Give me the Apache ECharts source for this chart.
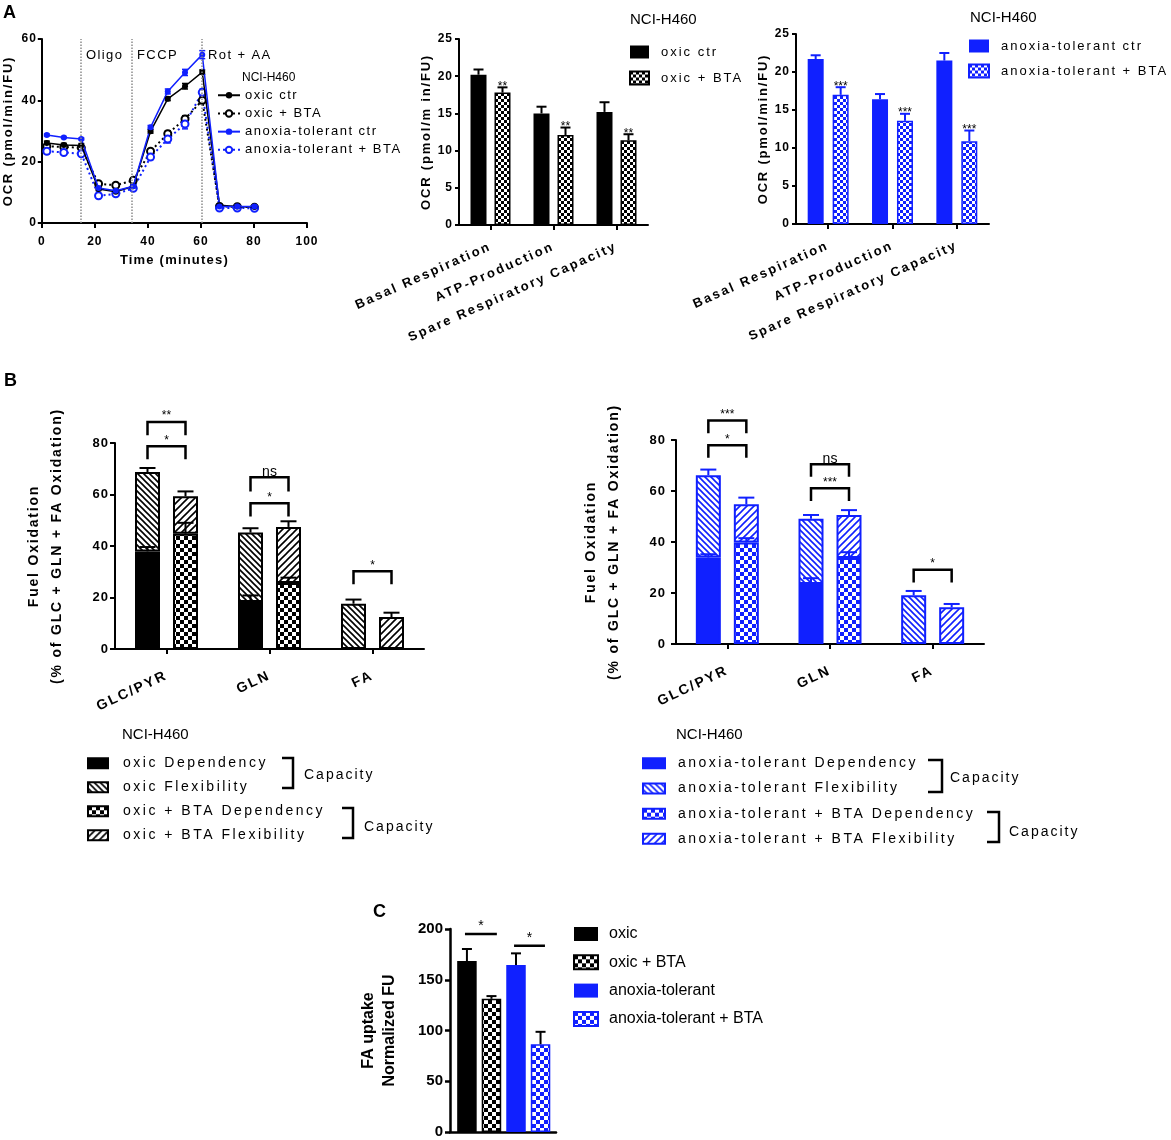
<!DOCTYPE html>
<html>
<head>
<meta charset="utf-8">
<script src="https://cdn.jsdelivr.net/npm/echarts@6/dist/echarts.min.js"></script>
<style>
html, body { margin: 0; padding: 0; background: #fff; }
#chart { width: 1171px; height: 1140px; }
</style>
</head>
<body>
<div id="chart"></div>
<script>
// GraphPad-style wide letter spacing: a font family "lsNN" marker sets NN/10 px spacing
(function () {
    var proto = CanvasRenderingContext2D.prototype;
    var desc = Object.getOwnPropertyDescriptor(proto, 'font');
    if (!desc || !('letterSpacing' in proto)) return;
    Object.defineProperty(proto, 'font', {
        configurable: true,
        enumerable: true,
        get: function () { return desc.get.call(this); },
        set: function (v) {
            desc.set.call(this, v);
            var m = /\bls(\d+)\b/.exec(String(v));
            this.letterSpacing = m ? (m[1] / 10) + 'px' : '0px';
        }
    });
})();

// ---- A: OCR time course ----
var times = [1.9, 8.3, 14.9, 21.4, 27.9, 34.5, 41, 47.5, 54, 60.5, 67, 73.7, 80.2];
var oxicCtr = [26.1, 25.4, 25.3, 11.1, 10.2, 12.0, 29.9, 40.5, 44.6, 49.2, 5.8, 5.4, 5.2];
var oxicCtrSd = [0.6, 0.6, 0.6, 0.5, 0.4, 0.5, 0.6, 0.6, 0.9, 0.7, 0.3, 0.3, 0.3];
var oxicBta = [25.0, 24.8, 24.5, 12.8, 12.3, 13.9, 23.4, 29.1, 33.9, 40.0, 5.4, 5.3, 5.1];
var oxicBtaSd = [0.6, 0.6, 0.6, 0.5, 0.5, 0.6, 0.7, 1.0, 1.1, 1.0, 0.3, 0.3, 0.3];
var anoxCtr = [28.7, 27.9, 27.4, 11.4, 10.5, 12.0, 31.2, 42.9, 49.1, 54.9, 5.4, 5.4, 5.4];
var anoxCtrSd = [0.3, 0.3, 0.3, 0.4, 0.4, 0.4, 0.6, 0.8, 1.0, 1.3, 0.3, 0.3, 0.3];
var anoxBta = [23.4, 23.0, 22.6, 8.9, 9.5, 11.3, 21.5, 27.4, 32.3, 42.6, 4.9, 4.9, 4.8];
var anoxBtaSd = [0.8, 0.7, 0.7, 0.4, 0.4, 0.5, 0.8, 1.3, 1.6, 1.0, 0.3, 0.3, 0.3];
var injections = [14.5, 34, 60.5];
var injectionNames = ['Oligo', 'FCCP', 'Rot + AA'];

// ---- A: respiration parameters ----
var respCats = ['Basal Respiration', 'ATP-Production', 'Spare Respiratory Capacity'];
var oxicCtrOcr = [20.2, 15.0, 15.2];
var oxicCtrErr = [0.7, 0.9, 1.3];
var oxicBtaOcr = [17.8, 12.1, 11.4];
var oxicBtaErr = [0.7, 1.0, 0.8];
var oxicBtaSig = ['**', '**', '**'];
var anoxCtrOcr = [21.7, 16.4, 21.5];
var anoxCtrErr = [0.5, 0.7, 1.0];
var anoxBtaOcr = [17.0, 13.6, 10.9];
var anoxBtaErr = [1.0, 0.9, 1.4];
var anoxBtaSig = ['***', '***', '***'];

// ---- B: fuel oxidation ----
var fuelCats = ['GLC/PYR', 'GLN', 'FA'];
var oxicDep = [37.9, 18.3, null];
var oxicDepErr = [1.7, 2.5, null];
var oxicFlex = [30.8, 26.9, 17.6];
var oxicTotErr = [1.6, 1.7, 1.6];
var oxicBtaDep = [44.8, 25.6, null];
var oxicBtaDepErr = [4.2, 2.1, null];
var oxicBtaFlex = [14.5, 21.8, 12.4];
var oxicBtaTotErr = [1.9, 2.2, 1.7];
var oxicBrackets = [[0, 88.2, 83.0], [0, 78.7, 73.7], [1, 66.7, 61.2], [1, 56.6, 51.5], [2, 30.2, 25.1]];
var oxicBracketSig = ['**', '*', 'ns', '*', '*'];

var anoxDep = [33.9, 23.5, null];
var anoxDepErr = [1.3, 2.3, null];
var anoxFlex = [32.3, 25.6, 19.1];
var anoxTotErr = [2.2, 1.5, 1.7];
var anoxBtaDep = [39.8, 33.7, null];
var anoxBtaDepErr = [1.7, 2.3, null];
var anoxBtaFlex = [15.0, 16.9, 14.4];
var anoxBtaTotErr = [2.6, 1.9, 1.3];
var anoxBrackets = [[0, 87.6, 82.6], [0, 77.9, 73.0], [1, 70.5, 65.6], [1, 61.1, 56.1], [2, 29.1, 24.1]];
var anoxBracketSig = ['***', '*', 'ns', '***', '*'];

// ---- C: FA uptake ----
var uptakeNames = ['oxic', 'oxic + BTA', 'anoxia-tolerant', 'anoxia-tolerant + BTA'];
var uptake = [168.4, 131.2, 164.5, 86.5];
var uptakeErr = [11.9, 2.7, 11.5, 12.2];
var uptakeSig = [[-0.08, 1.22, 195], [1.92, 3.18, 183.5]];

var BLUE = '#1020ff';
var PLAIN = 'Liberation Sans';
function sp(n) { return 'Liberation Sans, ls' + n; }

function tile(kind, color, s) {
    var c = document.createElement('canvas');
    c.width = s; c.height = s;
    var g = c.getContext('2d');
    g.fillStyle = '#fff';
    g.fillRect(0, 0, s, s);
    g.fillStyle = color;
    g.strokeStyle = color;
    if (kind === 'check') {
        var h = s / 2;
        g.fillRect(0, 0, h, h);
        g.fillRect(h, h, h, h);
    } else {
        g.lineWidth = 1.6;
        g.beginPath();
        if (kind === 'back') {
            g.moveTo(-1, -1); g.lineTo(s + 1, s + 1);
            g.moveTo(-1, s - 1); g.lineTo(1, s + 1);
            g.moveTo(s - 1, -1); g.lineTo(s + 1, 1);
        } else {
            g.moveTo(-1, s + 1); g.lineTo(s + 1, -1);
            g.moveTo(-1, 1); g.lineTo(1, -1);
            g.moveTo(s - 1, s + 1); g.lineTo(s + 1, s - 1);
        }
        g.stroke();
    }
    return { image: c, repeat: 'repeat' };
}

function lineSeries(name, values, color, open) {
    return {
        name: name, type: 'line', xAxisIndex: 0, yAxisIndex: 0,
        data: times.map(function (t, i) { return [t, values[i]]; }),
        symbol: open ? 'emptyCircle' : 'circle',
        symbolSize: open ? 7 : 6,
        showAllSymbol: true,
        itemStyle: { color: color, borderWidth: open ? 2 : 0 },
        lineStyle: { color: color, width: open ? 2 : 1.5, type: open ? [2, 3] : 'solid' },
        z: open ? 3 : 4
    };
}

// mean +/- SD whiskers for the time course
function sdSeries(values, sd, color) {
    return {
        type: 'custom', xAxisIndex: 0, yAxisIndex: 0, z: 2, silent: true,
        data: times.map(function (t, i) { return [t, values[i], sd[i]]; }),
        renderItem: function (params, api) {
            var t = api.value(0), v = api.value(1), s = api.value(2);
            var lo = api.coord([t, v - s]), hi = api.coord([t, v + s]);
            var x = lo[0];
            return {
                type: 'group',
                children: [
                    { type: 'line', shape: { x1: x, y1: lo[1], x2: x, y2: hi[1] }, style: { stroke: color, lineWidth: 1.5 } },
                    { type: 'line', shape: { x1: x - 3, y1: lo[1], x2: x + 3, y2: lo[1] }, style: { stroke: color, lineWidth: 1.5 } },
                    { type: 'line', shape: { x1: x - 3, y1: hi[1], x2: x + 3, y2: hi[1] }, style: { stroke: color, lineWidth: 1.5 } }
                ]
            };
        }
    };
}

// upward-only error bars (+ optional star above the cap)
function errSeries(axis, items, labels, offsets, cap, color, width, font) {
    return {
        type: 'custom', xAxisIndex: axis, yAxisIndex: axis, z: 6, silent: true, clip: false,
        data: items,
        renderItem: function (params, api) {
            var x = api.value(0), base = api.value(1), err = api.value(2), slot = api.value(3);
            var p0 = api.coord([x, base]);
            var p1 = api.coord([x, base + err]);
            var cx = p0[0] + offsets[slot];
            var kids = [
                { type: 'line', shape: { x1: cx, y1: p0[1], x2: cx, y2: p1[1] }, style: { stroke: color, lineWidth: width } },
                { type: 'line', shape: { x1: cx - cap, y1: p1[1], x2: cx + cap, y2: p1[1] }, style: { stroke: color, lineWidth: width } }
            ];
            var lab = labels && labels[params.dataIndex];
            if (lab) {
                kids.push({ type: 'text', style: { text: lab, x: cx, y: p1[1] - 1, align: 'center', verticalAlign: 'middle', font: font, fill: '#000' } });
            }
            return { type: 'group', children: kids };
        }
    };
}

function bracketSeries(axis, items, labels, half) {
    return {
        type: 'custom', xAxisIndex: axis, yAxisIndex: axis, z: 6, silent: true, clip: false,
        data: items,
        renderItem: function (params, api) {
            var top = api.coord([api.value(0), api.value(1)]);
            var bot = api.coord([api.value(0), api.value(2)]);
            var cx = top[0];
            var lab = labels[params.dataIndex];
            var ns = lab === 'ns';
            return {
                type: 'group',
                children: [
                    { type: 'polyline', shape: { points: [[cx - half, bot[1]], [cx - half, top[1]], [cx + half, top[1]], [cx + half, bot[1]]] },
                      style: { stroke: '#000', lineWidth: 2.5, fill: null } },
                    { type: 'text', style: { text: lab, x: cx, y: top[1] + (ns ? 2 : 0), align: 'center', verticalAlign: 'bottom',
                      font: ns ? '14px Liberation Sans' : '12px Liberation Sans', fill: '#000' } }
                ]
            };
        }
    };
}

function fuelItems(dep, depErr, flex, totErr, slot) {
    var out = [];
    fuelCats.forEach(function (c, i) {
        var d = dep[i] == null ? 0 : dep[i];
        if (dep[i] != null) out.push([i, d, depErr[i], slot]);
        out.push([i, d + flex[i], totErr[i], slot]);
    });
    return out;
}

function respItems(a, aErr, b, bErr) {
    var out = [];
    respCats.forEach(function (c, i) {
        out.push([i, a[i], aErr[i], 0]);
        out.push([i, b[i], bErr[i], 1]);
    });
    return out;
}
function respLabels(sig) {
    var out = [];
    sig.forEach(function (s) { out.push(''); out.push(s); });
    return out;
}

function fuelBar(name, axis, data, stack, fill, edge) {
    return {
        name: name, type: 'bar', xAxisIndex: axis, yAxisIndex: axis, stack: stack, data: data,
        barWidth: 25, barGap: '52%',
        itemStyle: { color: fill, borderColor: edge, borderWidth: 2 }
    };
}

function axisLine(w) { return { show: true, onZero: false, lineStyle: { color: '#000', width: w } }; }
function axisTick(len, w) { return { show: true, length: len, lineStyle: { color: '#000', width: w } }; }
function yName(text, gap, size, family, lh) {
    return { name: text, nameLocation: 'middle', nameGap: gap,
             nameTextStyle: { color: '#000', fontWeight: 'bold', fontSize: size, fontFamily: family, lineHeight: lh } };
}
function txt(text, x, y, font, align) {
    return { type: 'text', x: x, y: y, silent: true,
             style: { text: text, font: font, fill: '#000', align: align || 'left', verticalAlign: 'middle' } };
}
function bracket(x1, x2, y1, y2) {
    return { type: 'polyline', silent: true, shape: { points: [[x1, y1], [x2, y1], [x2, y2], [x1, y2]] },
             style: { stroke: '#000', lineWidth: 2.5, fill: null } };
}
function stripTag(n) { return n.split('#')[0]; }

var checkK3 = tile('check', '#000', 6);
var checkB3 = tile('check', BLUE, 6);
var checkK4 = tile('check', '#000', 8);
var checkB4 = tile('check', BLUE, 8);
var backK = tile('back', '#000', 6);
var fwdK = tile('fwd', '#000', 7);
var backB = tile('back', BLUE, 6);
var fwdB = tile('fwd', BLUE, 7);

var respAxisLabel = { interval: 0, rotate: 24, margin: 21, color: '#000', fontWeight: 'bold', fontSize: 13, fontFamily: sp(22) };
var fuelAxisLabel = { interval: 0, rotate: 25, margin: 26, color: '#000', fontWeight: 'bold', fontSize: 14, fontFamily: sp(20) };
var tickLabel = { color: '#000', fontWeight: 'bold', fontSize: 12, fontFamily: sp(10), margin: 6 };
var legendFont = { color: '#000', fontSize: 14, fontFamily: sp(25) };

var chart = echarts.init(document.getElementById('chart'));
chart.setOption({
    animation: false,
    backgroundColor: '#fff',
    grid: [
        { left: 41, top: 39, width: 266, height: 184 },
        { left: 459, top: 39, width: 189, height: 186 },
        { left: 796, top: 34, width: 193, height: 190 },
        { left: 115, top: 443, width: 309, height: 206 },
        { left: 676, top: 440, width: 308, height: 204 },
        { left: 450, top: 929, width: 106, height: 203 }
    ],
    xAxis: [
        { gridIndex: 0, type: 'value', min: 0, max: 100, interval: 20,
          axisLine: axisLine(2), axisTick: axisTick(5, 2), splitLine: { show: false },
          axisLabel: { color: '#000', fontWeight: 'bold', fontSize: 12, fontFamily: sp(10), margin: 12 },
          name: 'Time (minutes)', nameLocation: 'middle', nameGap: 30,
          nameTextStyle: { color: '#000', fontWeight: 'bold', fontSize: 13, fontFamily: sp(12) } },
        { gridIndex: 1, type: 'category', data: respCats, axisLine: axisLine(2),
          axisTick: { show: true, alignWithLabel: true, length: 5, lineStyle: { color: '#000', width: 2 } },
          axisLabel: respAxisLabel },
        { gridIndex: 2, type: 'category', data: respCats, axisLine: axisLine(2),
          axisTick: { show: true, alignWithLabel: true, length: 5, lineStyle: { color: '#000', width: 2 } },
          axisLabel: respAxisLabel },
        { gridIndex: 3, type: 'category', data: fuelCats, axisLine: axisLine(2),
          axisTick: { show: true, alignWithLabel: true, length: 5, lineStyle: { color: '#000', width: 2 } },
          axisLabel: fuelAxisLabel },
        { gridIndex: 4, type: 'category', data: fuelCats, axisLine: axisLine(2),
          axisTick: { show: true, alignWithLabel: true, length: 5, lineStyle: { color: '#000', width: 2 } },
          axisLabel: fuelAxisLabel },
        { gridIndex: 5, type: 'value', min: -0.69, max: 3.63, axisLine: axisLine(2.5),
          axisTick: { show: false }, axisLabel: { show: false }, splitLine: { show: false } }
    ],
    yAxis: [
        Object.assign({ gridIndex: 0, type: 'value', min: 0, max: 60, interval: 20,
          axisLine: axisLine(2), axisTick: axisTick(4, 2), splitLine: { show: false },
          axisLabel: { color: '#000', fontWeight: 'bold', fontSize: 12, fontFamily: sp(10), margin: 5 } },
          yName('OCR (pmol/min/FU)', 26, 13, sp(18))),
        Object.assign({ gridIndex: 1, type: 'value', min: 0, max: 25, interval: 5,
          axisLine: axisLine(2), axisTick: axisTick(4, 2), splitLine: { show: false }, axisLabel: tickLabel },
          yName('OCR (pmol/m in/FU)', 25, 13, sp(18))),
        Object.assign({ gridIndex: 2, type: 'value', min: 0, max: 25, interval: 5,
          axisLine: axisLine(2), axisTick: axisTick(4, 2), splitLine: { show: false }, axisLabel: tickLabel },
          yName('OCR (pmol/min/FU)', 25, 13, sp(18))),
        Object.assign({ gridIndex: 3, type: 'value', min: 0, max: 80, interval: 20,
          axisLine: axisLine(2), axisTick: axisTick(5, 2), splitLine: { show: false },
          axisLabel: { color: '#000', fontWeight: 'bold', fontSize: 13, fontFamily: sp(10), margin: 6 } },
          yName('Fuel Oxidation\n(% of GLC + GLN + FA Oxidation)', 46, 14, sp(18), 23)),
        Object.assign({ gridIndex: 4, type: 'value', min: 0, max: 80, interval: 20,
          axisLine: axisLine(2), axisTick: axisTick(5, 2), splitLine: { show: false },
          axisLabel: { color: '#000', fontWeight: 'bold', fontSize: 13, fontFamily: sp(10), margin: 10 } },
          yName('Fuel Oxidation\n(% of GLC + GLN + FA Oxidation)', 50, 14, sp(18), 23)),
        Object.assign({ gridIndex: 5, type: 'value', min: 0, max: 200, interval: 50,
          axisLine: axisLine(2.5), axisTick: axisTick(5, 2.5), splitLine: { show: false },
          axisLabel: { color: '#000', fontWeight: 'bold', fontSize: 15, fontFamily: PLAIN, margin: 7 } },
          yName('FA uptake\nNormalized FU', 50, 16, PLAIN, 21))
    ],
    legend: [
        { data: ['oxic ctr', 'oxic + BTA', 'anoxia-tolerant ctr', 'anoxia-tolerant + BTA'],
          orient: 'vertical', left: 217, top: 88, padding: 0, itemWidth: 22, itemHeight: 8, itemGap: 3.7,
          selectedMode: false, textStyle: { color: '#000', fontSize: 13, fontFamily: sp(15) } },
        { data: ['oxic ctr#a', 'oxic + BTA#a'], formatter: stripTag, icon: 'rect',
          orient: 'vertical', left: 629, top: 44.5, padding: 0, itemWidth: 19, itemHeight: 13, itemGap: 11,
          selectedMode: false, textStyle: { color: '#000', fontSize: 13, fontFamily: sp(20), padding: [0, 0, 0, 7] } },
        { data: ['anoxia-tolerant ctr#a', 'anoxia-tolerant + BTA#a'], formatter: stripTag, icon: 'rect',
          orient: 'vertical', left: 968, top: 38.5, padding: 0, itemWidth: 20, itemHeight: 13, itemGap: 10,
          selectedMode: false, textStyle: { color: '#000', fontSize: 13, fontFamily: sp(20), padding: [0, 0, 0, 7] } },
        { data: ['oxic Dependency', 'oxic Flexibility', 'oxic + BTA Dependency', 'oxic + BTA Flexibility'], icon: 'rect',
          orient: 'vertical', left: 87, top: 755, padding: 0, itemWidth: 20, itemHeight: 10, itemGap: 7.5,
          selectedMode: false, textStyle: Object.assign({ padding: [0, 0, 0, 10] }, legendFont) },
        { data: ['anoxia-tolerant Dependency', 'anoxia-tolerant Flexibility', 'anoxia-tolerant + BTA Dependency', 'anoxia-tolerant + BTA Flexibility'], icon: 'rect',
          orient: 'vertical', left: 642, top: 755, padding: 0, itemWidth: 22, itemHeight: 10, itemGap: 8.7,
          selectedMode: false, textStyle: Object.assign({ padding: [0, 0, 0, 8] }, legendFont) },
        { data: uptakeNames.map(function (n) { return n + '#c'; }), formatter: stripTag, icon: 'rect',
          orient: 'vertical', left: 573, top: 926, padding: 0, itemWidth: 24, itemHeight: 14, itemGap: 12.3,
          selectedMode: false, textStyle: { color: '#000', fontSize: 16, fontFamily: PLAIN, padding: [0, 0, 0, 6] } }
    ],
    graphic: [
        txt('A', 3, 13, 'bold 18px Liberation Sans'),
        txt('B', 4, 381, 'bold 18px Liberation Sans'),
        txt('C', 373, 912, 'bold 18px Liberation Sans'),
        txt(injectionNames[0], 86, 55, '13px Liberation Sans, ls14'),
        txt(injectionNames[1], 137, 55, '13px Liberation Sans, ls14'),
        txt(injectionNames[2], 208, 55, '13px Liberation Sans, ls14'),
        txt('NCI-H460', 242, 78, '12px Liberation Sans'),
        txt('NCI-H460', 630, 20, '15px Liberation Sans'),
        txt('NCI-H460', 970, 18, '15px Liberation Sans'),
        txt('NCI-H460', 122, 735, '15px Liberation Sans'),
        txt('NCI-H460', 676, 735, '15px Liberation Sans'),
        bracket(282, 293, 758, 788),
        txt('Capacity', 304, 775, '14px Liberation Sans, ls20'),
        bracket(342, 353, 808, 838),
        txt('Capacity', 364, 827, '14px Liberation Sans, ls20'),
        bracket(928, 942, 760, 792),
        txt('Capacity', 950, 778, '14px Liberation Sans, ls20'),
        bracket(987, 999, 812, 842),
        txt('Capacity', 1009, 832, '14px Liberation Sans, ls20')
    ],
    series: [
        Object.assign(lineSeries('oxic ctr', oxicCtr, '#000', false), {
            markLine: {
                silent: true, symbol: ['none', 'none'], label: { show: false },
                lineStyle: { color: '#8c8c8c', type: 'dotted', width: 1.5 },
                data: injections.map(function (v) { return { xAxis: v }; })
            }
        }),
        lineSeries('oxic + BTA', oxicBta, '#000', true),
        lineSeries('anoxia-tolerant ctr', anoxCtr, BLUE, false),
        lineSeries('anoxia-tolerant + BTA', anoxBta, BLUE, true),
        sdSeries(oxicCtr, oxicCtrSd, '#000'),
        sdSeries(oxicBta, oxicBtaSd, '#000'),
        sdSeries(anoxCtr, anoxCtrSd, BLUE),
        sdSeries(anoxBta, anoxBtaSd, BLUE),

        { name: 'oxic ctr#a', type: 'bar', xAxisIndex: 1, yAxisIndex: 1, data: oxicCtrOcr,
          barWidth: 16, barGap: '50%', itemStyle: { color: '#000' } },
        { name: 'oxic + BTA#a', type: 'bar', xAxisIndex: 1, yAxisIndex: 1, data: oxicBtaOcr,
          barWidth: 16, barGap: '50%', itemStyle: { color: checkK3, borderColor: '#000', borderWidth: 1.5 } },
        errSeries(1, respItems(oxicCtrOcr, oxicCtrErr, oxicBtaOcr, oxicBtaErr), respLabels(oxicBtaSig),
                  [-12, 12], 5, '#000', 2, '12px Liberation Sans'),

        { name: 'anoxia-tolerant ctr#a', type: 'bar', xAxisIndex: 2, yAxisIndex: 2, data: anoxCtrOcr,
          barWidth: 16, barGap: '56%', itemStyle: { color: BLUE } },
        { name: 'anoxia-tolerant + BTA#a', type: 'bar', xAxisIndex: 2, yAxisIndex: 2, data: anoxBtaOcr,
          barWidth: 16, barGap: '56%', itemStyle: { color: checkB3, borderColor: BLUE, borderWidth: 1.5 } },
        errSeries(2, respItems(anoxCtrOcr, anoxCtrErr, anoxBtaOcr, anoxBtaErr), respLabels(anoxBtaSig),
                  [-12.5, 12.5], 5, BLUE, 2, '12px Liberation Sans'),

        fuelBar('oxic Dependency', 3, oxicDep, 'o', '#000', '#000'),
        fuelBar('oxic Flexibility', 3, oxicFlex, 'o', backK, '#000'),
        fuelBar('oxic + BTA Dependency', 3, oxicBtaDep, 'ob', checkK4, '#000'),
        fuelBar('oxic + BTA Flexibility', 3, oxicBtaFlex, 'ob', fwdK, '#000'),
        errSeries(3, fuelItems(oxicDep, oxicDepErr, oxicFlex, oxicTotErr, 0)
                     .concat(fuelItems(oxicBtaDep, oxicBtaDepErr, oxicBtaFlex, oxicBtaTotErr, 1)),
                  null, [-19, 19], 8, '#000', 2),
        bracketSeries(3, oxicBrackets, oxicBracketSig, 19),

        fuelBar('anoxia-tolerant Dependency', 4, anoxDep, 'a', BLUE, BLUE),
        fuelBar('anoxia-tolerant Flexibility', 4, anoxFlex, 'a', backB, BLUE),
        fuelBar('anoxia-tolerant + BTA Dependency', 4, anoxBtaDep, 'ab', checkB4, BLUE),
        fuelBar('anoxia-tolerant + BTA Flexibility', 4, anoxBtaFlex, 'ab', fwdB, BLUE),
        errSeries(4, fuelItems(anoxDep, anoxDepErr, anoxFlex, anoxTotErr, 0)
                     .concat(fuelItems(anoxBtaDep, anoxBtaDepErr, anoxBtaFlex, anoxBtaTotErr, 1)),
                  null, [-19, 19], 8, BLUE, 2),
        bracketSeries(4, anoxBrackets, anoxBracketSig, 19),

        { name: uptakeNames[0] + '#c', type: 'bar', xAxisIndex: 5, yAxisIndex: 5, data: [[0, uptake[0]]],
          barWidth: 19.5, barGap: '-100%', itemStyle: { color: '#000' } },
        { name: uptakeNames[1] + '#c', type: 'bar', xAxisIndex: 5, yAxisIndex: 5, data: [[1, uptake[1]]],
          barWidth: 19.5, barGap: '-100%', itemStyle: { color: checkK4, borderColor: '#000', borderWidth: 1.5 } },
        { name: uptakeNames[2] + '#c', type: 'bar', xAxisIndex: 5, yAxisIndex: 5, data: [[2, uptake[2]]],
          barWidth: 19.5, barGap: '-100%', itemStyle: { color: BLUE } },
        { name: uptakeNames[3] + '#c', type: 'bar', xAxisIndex: 5, yAxisIndex: 5, data: [[3, uptake[3]]],
          barWidth: 19.5, barGap: '-100%', itemStyle: { color: checkB4, borderColor: BLUE, borderWidth: 1.5 } },
        errSeries(5, uptake.map(function (v, i) { return [i, v, uptakeErr[i], 0]; }), null,
                  [0], 5, '#000', 2),
        {
            type: 'custom', xAxisIndex: 5, yAxisIndex: 5, z: 6, silent: true, clip: false,
            data: uptakeSig,
            renderItem: function (params, api) {
                var a = api.coord([api.value(0), api.value(2)]);
                var b = api.coord([api.value(1), api.value(2)]);
                return {
                    type: 'group',
                    children: [
                        { type: 'line', shape: { x1: a[0], y1: a[1], x2: b[0], y2: b[1] }, style: { stroke: '#000', lineWidth: 2.5 } },
                        { type: 'text', style: { text: '*', x: (a[0] + b[0]) / 2, y: a[1] - 1, align: 'center', verticalAlign: 'bottom',
                          font: '14px Liberation Sans', fill: '#000' } }
                    ]
                };
            }
        }
    ]
});
</script>
</body>
</html>
